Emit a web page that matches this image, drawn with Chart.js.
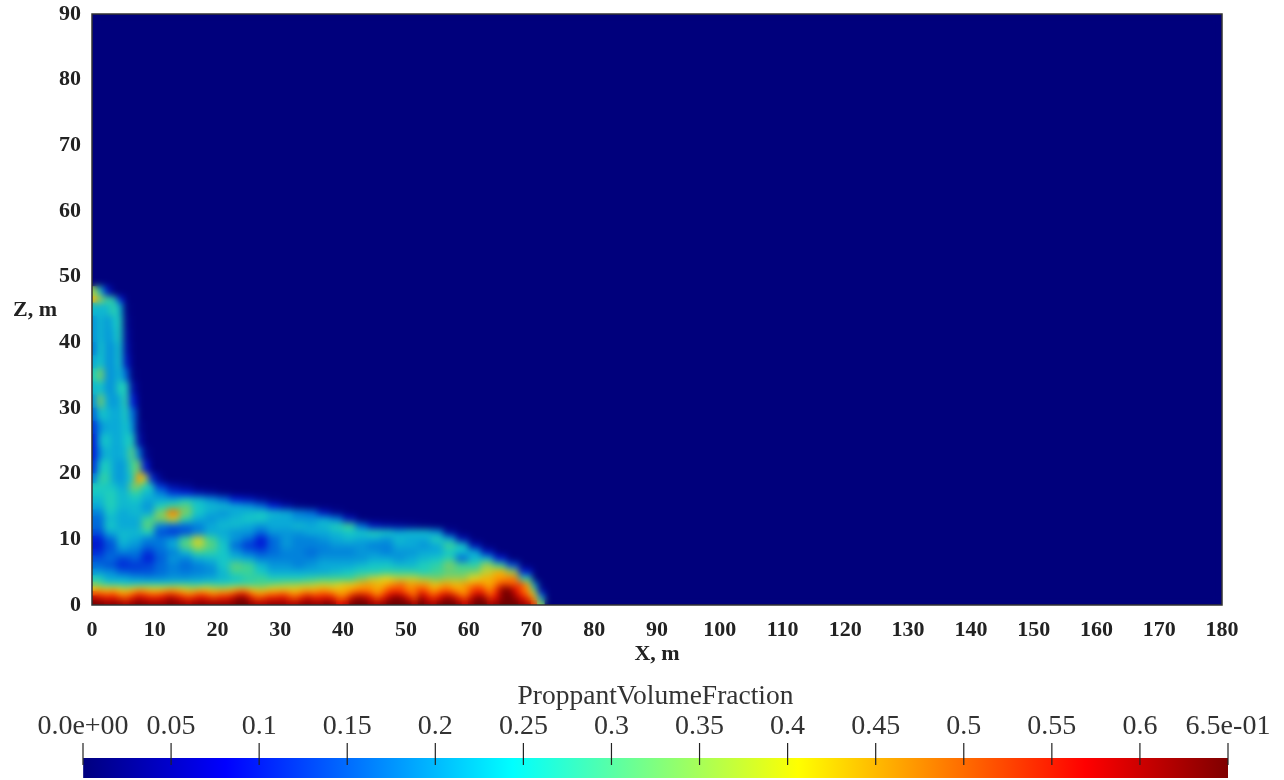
<!DOCTYPE html>
<html>
<head>
<meta charset="utf-8">
<script src="https://cdn.jsdelivr.net/npm/chart.js@4"></script>
<style>
  html, body { margin: 0; background: #fff; }
  #wrap { position: relative; width: 1284px; height: 780px; }
  canvas { position: absolute; left: 0; top: 0; }
</style>
</head>
<body>
<div id="wrap">
  <canvas id="field" width="1284" height="780"></canvas>
  <canvas id="colorbar" width="1284" height="780"></canvas>
</div>
<script>
// lower and upper edge of each row, m
const zBands = [[0,0.7],[0.7,1.4],[1.4,2.1],[2.1,2.8],[2.8,3.5],[3.5,4.5],[4.5,5.5],[5.5,6.5],[6.5,7.5],[7.5,8.5],[8.5,9.5],[9.5,10.5],[10.5,11.5],[11.5,12.5],[12.5,13.5],[13.5,14.5],[14.5,15.5],[15.5,16.5],[16.5,17.5],[17.5,18.5],[18.5,20],[20,22],[22,24],[24,26],[26,28],[28,30],[30,32],[32,34],[34,36],[36,38],[38,40],[40,42],[42,44],[44,46],[46,47],[47,48.5]];
// cell width of each row, m
const rowSteps = [1,1,1,1,1,2,2,2,2,2,2,2,2,2,2,2,2,2,2,2,1,1,1,1,1,1,1,1,1,1,1,1,1,1,1,1];
// proppant fraction in hundredths, one row per band
const fractionRows = [
  [64,64,62,63,62,60,62,64,63,62,62,62,64,63,62,60,62,63,62,62,62,62,63,65,65,62,60,60,62,62,62,60,60,62,63,62,62,64,62,56,58,64,65,65,62,60,62,65,65,65,64,60,65,62,60,64,65,65,62,58,62,65,65,60,62,65,65,65,62,60,52,34],
  [58,56,54,55,52,50,54,58,56,54,54,56,60,58,54,52,54,56,54,52,54,54,58,63,62,54,50,52,54,54,56,52,50,54,58,54,54,56,54,48,50,58,62,60,56,50,54,60,64,62,56,50,62,56,52,56,62,60,54,50,58,64,62,52,56,63,65,62,56,52,44,22],
  [50,50,48,50,46,46,48,52,50,48,48,50,52,50,48,46,48,50,48,46,48,48,50,54,54,48,46,46,48,48,50,48,46,48,50,48,50,50,48,46,46,50,52,52,50,46,50,54,56,54,50,48,56,52,48,52,54,52,48,46,52,56,54,48,54,64,65,58,52,48,38,10],
  [42,42,40,42,40,38,40,42,42,40,40,40,42,42,40,38,38,40,40,38,38,38,40,42,42,40,38,38,40,40,40,40,40,42,42,42,44,44,42,42,44,44,46,46,46,44,46,50,50,50,46,48,50,48,44,46,48,46,44,46,50,52,50,46,52,62,63,56,50,46,30,2],
  [34,30,26,26,25,24,24,25,26,26,26,26,26,27,27,28,26,26,28,27,26,26,27,28,28,28,30,30,32,33,34,35,35,36,36,37,38,38,38,40,42,42,44,46,46,44,44,46,48,50,46,46,46,46,42,44,46,44,44,46,46,48,46,44,48,52,50,50,52,44,18],
  [26,20,20,18,17,17,18,18,19,20,22,24,28,30,26,26,26,28,30,30,30,34,38,40,38,38,36,34,36,36,40,44,46,48,28],
  [18,17,13,12,12,14,16,15,16,17,22,30,30,24,20,20,20,20,20,22,24,26,26,28,28,28,26,30,32,32,34,38,44,36,8],
  [14,12,9,10,11,14,16,14,16,18,24,32,30,22,18,18,16,18,20,20,20,22,24,24,22,22,26,28,34,30,28,36,30,12],
  [12,14,11,13,8,13,18,16,20,22,24,22,20,16,16,16,16,16,18,18,18,18,20,20,18,20,22,24,28,14,22,22,8],
  [9,13,16,15,10,14,16,22,30,28,24,18,14,12,14,16,16,14,16,16,16,18,18,16,18,18,20,20,24,22,20,6],
  [7,12,20,18,14,15,20,32,38,32,24,14,10,8,14,18,16,16,16,18,18,18,16,16,20,20,18,20,30,24,5],
  [8,14,22,20,16,15,18,30,38,30,22,18,14,8,14,18,16,16,18,20,22,20,20,18,22,20,20,26,20,5],
  [12,20,22,22,26,12,10,12,16,20,20,18,18,14,18,18,18,20,20,22,24,24,26,24,20,22,22,18,3],
  [14,24,20,20,32,16,14,14,16,20,22,22,20,18,20,20,22,20,22,26,30,14,6,4,3,2,1],
  [14,22,20,20,30,34,38,28,20,18,20,22,24,24,20,20,18,18,20,16,6],
  [16,24,20,22,20,34,48,34,24,20,18,20,22,24,22,20,16,14,6,2],
  [20,26,22,22,18,26,30,32,24,22,22,20,18,14,8,4,1],
  [22,26,22,24,20,20,20,24,22,18,14,8,6,3,1],
  [24,26,22,28,22,16,10,8,5,3,1],
  [26,24,20,34,26,10,4,2],
  [16,28,28,20,18,20,26,46,38,10,3],
  [10,24,26,20,18,20,30,34,8],
  [8,18,22,20,20,22,32,16,2],
  [8,22,24,20,20,24,26,4],
  [10,18,20,20,20,24,18,2],
  [14,24,22,20,20,26,14],
  [18,34,20,18,20,28,8],
  [22,24,18,18,26,26,4],
  [26,34,18,18,22,14,1],
  [20,24,18,18,24,6],
  [16,24,18,18,24,4],
  [18,22,18,20,26,3],
  [18,22,18,22,26,2],
  [22,22,22,28,22,1],
  [44,36,30,28,8],
  [36,22,6]
];

const colorbarTicks = [0,0.05,0.1,0.15,0.2,0.25,0.3,0.35,0.4,0.45,0.5,0.55,0.6,0.65];
const colorbarLabels = ['0.0e+00','0.05','0.1','0.15','0.2','0.25','0.3','0.35','0.4','0.45','0.5','0.55','0.6','6.5e-01'];
const colorStops = [0,0.081,0.244,0.406,0.569,0.65];
const colorValues = [[0,0,127],[0,0,255],[0,255,255],[255,255,0],[255,0,0],[127,0,0]];
// the field in the picture is more muted than its colour bar
const fieldStops = [0,0.08,0.15,0.2,0.25,0.3,0.35,0.4,0.45,0.5,0.55,0.6,0.65];
const fieldValues = [[0,0,120],[0,30,215],[0,120,220],[10,170,215],[25,205,195],[60,210,150],[135,205,90],[225,215,30],[250,170,0],[250,90,0],[240,10,0],[170,0,0],[110,0,0]];

const serif = "'Liberation Serif', serif";

function lookup(v, stops, values) {
    let i = 0;
    while (i < stops.length - 2 && v > stops[i + 1]) i++;
    const t = Math.min(1, (v - stops[i]) / (stops[i + 1] - stops[i]));
    const c = values[i].map((a, k) => Math.round(a + (values[i + 1][k] - a) * t));
    return `rgb(${c[0]},${c[1]},${c[2]})`;
}

const fieldLook = {
    id: 'fieldLook',
    beforeDatasetsDraw(chart) {
        const { ctx, chartArea: a } = chart;
        ctx.save();
        ctx.fillStyle = '#00007c';
        ctx.fillRect(a.left, a.top, a.width, a.height);
        ctx.restore();
    },
    // soften the cell edges, the source picture is smooth
    afterDatasetsDraw(chart) {
        const { ctx, chartArea: a, canvas } = chart;
        ctx.save();
        ctx.beginPath();
        ctx.rect(a.left, a.top, a.width, a.height);
        ctx.clip();
        ctx.filter = 'blur(3.5px)';
        ctx.drawImage(canvas, a.left, a.top, a.width, a.height, a.left, a.top, a.width, a.height);
        ctx.restore();
    },
    afterDraw(chart) {
        const { ctx, chartArea: a, scales } = chart;
        ctx.save();
        ctx.strokeStyle = '#333';
        ctx.lineWidth = 1.5;
        ctx.strokeRect(a.left, a.top, a.width, a.height);
        ctx.fillStyle = '#222';
        ctx.font = `bold 22px ${serif}`;
        ctx.textAlign = 'center';
        ctx.textBaseline = 'middle';
        ctx.fillText('Z, m', 35, scales.y.getPixelForValue(45) + 1);
        ctx.restore();
    }
};

new Chart(document.getElementById('field').getContext('2d'), {
    type: 'bar',
    data: {
        datasets: fractionRows.map((row, r) => ({
            data: row.map((v, i) => ({ x: (i + 0.5) * rowSteps[r], y: zBands[r] })),
            backgroundColor: row.map(v => lookup(v / 100, fieldStops, fieldValues)),
            borderWidth: 0,
            grouped: false,
            barThickness: rowSteps[r] === 1 ? 7 : 13
        }))
    },
    options: {
        responsive: false,
        animation: false,
        events: [],
        layout: { padding: { top: 14, right: 62, bottom: 112 } },
        plugins: { legend: { display: false }, tooltip: { enabled: false } },
        scales: {
            x: {
                type: 'linear', min: 0, max: 180, offset: false,
                grid: { display: false, offset: false }, border: { display: false },
                ticks: { stepSize: 10, maxRotation: 0, autoSkip: false, padding: 4, color: '#222', font: { family: serif, weight: 'bold', size: 22 } },
                title: { display: true, text: 'X, m', color: '#222', padding: 0, font: { family: serif, weight: 'bold', size: 22 } },
                afterFit: s => { s.height = 63; s.paddingRight = 0; }
            },
            y: {
                min: 0, max: 90,
                grid: { display: false }, border: { display: false },
                ticks: { stepSize: 10, padding: 3, color: '#222', font: { family: serif, weight: 'bold', size: 22 } },
                afterFit: s => { s.width = 92; s.paddingTop = 0; s.paddingBottom = 0; }
            }
        }
    },
    plugins: [fieldLook]
});

const barTicks = {
    id: 'barTicks',
    afterDraw(chart) {
        const { ctx, scales, chartArea: a } = chart;
        ctx.save();
        ctx.strokeStyle = '#222';
        ctx.lineWidth = 1.2;
        colorbarTicks.forEach(t => {
            const px = scales.x.getPixelForValue(t);
            ctx.beginPath();
            ctx.moveTo(px, a.top - 15);
            ctx.lineTo(px, a.top + 7);
            ctx.stroke();
        });
        ctx.restore();
    }
};

new Chart(document.getElementById('colorbar').getContext('2d'), {
    type: 'bar',
    data: {
        labels: [''],
        datasets: [{
            data: [[0, 0.65]],
            borderWidth: 0,
            barPercentage: 1,
            categoryPercentage: 1,
            backgroundColor(c) {
                const a = c.chart.chartArea;
                if (!a) return '#00007f';
                const g = c.chart.ctx.createLinearGradient(a.left, 0, a.right, 0);
                colorStops.forEach(s => g.addColorStop(s / 0.65, lookup(s, colorStops, colorValues)));
                return g;
            }
        }]
    },
    options: {
        indexAxis: 'y',
        responsive: false,
        animation: false,
        events: [],
        layout: { padding: { top: 680, left: 83, right: 56, bottom: 2 } },
        plugins: { legend: { display: false }, tooltip: { enabled: false } },
        scales: {
            x: {
                type: 'linear', position: 'top', min: 0, max: 0.65,
                grid: { drawOnChartArea: false, drawTicks: false }, border: { display: false },
                afterBuildTicks: s => { s.ticks = colorbarTicks.map(v => ({ value: v })); },
                ticks: {
                    autoSkip: false, maxRotation: 0, padding: 15, color: '#333',
                    font: { family: serif, size: 28 },
                    callback: (v, i) => colorbarLabels[i]
                },
                title: { display: true, text: 'ProppantVolumeFraction', color: '#333', padding: 0, font: { family: serif, size: 27.5 } },
                afterFit: s => { s.height = 78; s.paddingLeft = 0; s.paddingRight = 0; }
            },
            y: { display: false }
        }
    },
    plugins: [barTicks]
});
</script>
</body>
</html>
